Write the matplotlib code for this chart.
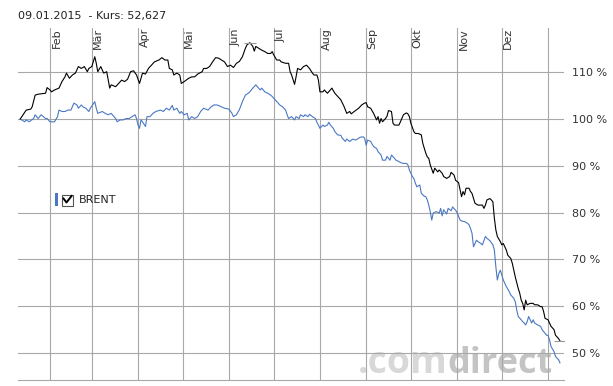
import numpy as np
import matplotlib
matplotlib.use('Agg')
import matplotlib.pyplot as plt
from matplotlib import transforms
from matplotlib.patches import Rectangle
from matplotlib.lines import Line2D

# Tage seit 01.01.2014 und Kurs in %
black_day = [11, 15, 18, 19, 21, 23, 28, 29, 31, 32, 34, 37, 39, 41, 42, 44, 46, 48, 50, 52,
             54, 56, 57, 59, 61, 62, 63, 65, 67, 69, 71, 72, 75, 77, 79, 81, 83, 85, 87, 89,
             91, 93, 95, 97, 99, 101, 104, 106, 108, 110, 111, 113, 114, 116, 118, 119, 121, 124, 126, 128,
             130, 133, 134, 136, 138, 140, 142, 144, 146, 148, 150, 152, 154, 156, 158, 160, 162, 163, 165, 167,
             168, 169, 171, 173, 175, 177, 179, 180, 181, 183, 185, 186, 189, 191, 192, 193, 195, 196, 197, 199,
             201, 203, 205, 207, 208, 210, 211, 212, 214, 215, 217, 219, 220, 222, 224, 226, 228, 230, 232, 233,
             235, 238, 240, 242, 243, 244, 246, 248, 250, 251, 252, 253, 254, 256, 257, 258, 260, 261, 262, 265,
             266, 268, 270, 271, 272, 273, 275, 276, 278, 280, 281, 283, 284, 285, 286, 288, 289, 291, 292, 294,
             295, 297, 299, 300, 302, 303, 305, 307, 308, 309, 310, 312, 313, 314, 316, 318, 321, 322, 323, 324,
             326, 327, 328, 329, 330, 331, 333, 334, 335, 336, 337, 338, 340, 341, 342, 343, 345, 346, 347, 348,
             349, 350, 351, 353, 355, 356, 358, 360, 361, 362, 363, 365, 366, 367, 369, 370, 372, 373]
black_pct = [100.0, 101.9, 102.1, 102.6, 105.1, 105.3, 105.5, 106.7, 106.2, 105.8, 106.2, 106.6, 108.0, 109.0, 109.8, 108.7, 109.4, 109.8, 111.2, 110.8,
             111.2, 110.1, 110.8, 111.2, 113.3, 111.9, 110.1, 111.2, 109.8, 110.1, 106.6, 107.3, 106.9, 107.6, 108.3, 108.0, 108.5, 110.1, 110.3, 109.4,
             107.6, 109.8, 109.6, 110.8, 111.5, 112.2, 112.6, 113.1, 112.6, 112.6, 110.8, 110.5, 109.4, 109.8, 109.4, 107.6, 108.0, 108.7, 109.0, 109.0,
             109.6, 110.1, 110.8, 110.8, 111.2, 112.2, 113.1, 113.0, 112.6, 112.2, 111.2, 111.5, 111.0, 111.9, 112.3, 113.3, 115.1, 115.8, 116.3, 115.5,
             114.5, 115.5, 115.1, 114.7, 114.4, 114.0, 114.0, 114.4, 113.7, 112.6, 112.6, 112.2, 111.9, 111.9, 110.1, 109.4, 107.4, 109.0, 110.8, 110.5,
             111.2, 111.5, 110.8, 109.8, 109.4, 109.4, 108.3, 105.8, 105.8, 106.2, 105.5, 106.2, 106.6, 105.5, 104.8, 104.1, 102.8, 101.2, 101.6, 101.1,
             101.6, 102.3, 103.0, 103.4, 103.5, 102.6, 102.3, 101.2, 99.8, 100.5, 99.1, 100.1, 99.4, 100.1, 100.6, 101.8, 101.6, 99.1, 98.7, 98.7,
             99.4, 100.9, 101.3, 101.1, 100.5, 99.1, 97.3, 96.9, 96.9, 96.6, 94.8, 92.7, 91.9, 91.6, 90.2, 88.4, 89.5, 88.7, 89.1, 88.4,
             87.7, 87.3, 87.7, 88.6, 88.0, 86.9, 86.4, 83.4, 84.5, 83.8, 85.2, 85.2, 84.5, 84.1, 82.0, 81.6, 81.6, 80.9, 81.6, 82.7,
             83.0, 82.7, 82.3, 78.8, 76.3, 74.9, 73.8, 73.1, 73.4, 72.7, 72.0, 70.9, 70.2, 69.2, 67.7, 66.3, 63.8, 62.8, 61.3, 60.6,
             59.2, 61.3, 60.3, 60.6, 60.6, 60.3, 60.3, 59.9, 59.9, 58.9, 57.4, 57.1, 56.4, 55.7, 55.0, 53.8, 53.1, 52.6]

brent_day = [11, 14, 15, 17, 20, 21, 23, 25, 28, 29, 31, 32, 34, 36, 37, 39, 41, 43, 45, 47,
             49, 50, 52, 53, 55, 57, 58, 61, 62, 63, 66, 68, 70, 72, 75, 76, 78, 80, 82, 84,
             86, 88, 89, 90, 91, 92, 93, 95, 96, 98, 100, 102, 105, 107, 109, 111, 113, 114, 116, 118,
             119, 121, 123, 124, 126, 128, 130, 132, 134, 137, 139, 141, 143, 146, 148, 151, 153, 154, 156, 158,
             160, 162, 164, 165, 167, 169, 170, 172, 173, 175, 177, 179, 180, 182, 184, 185, 187, 189, 190, 191,
             193, 195, 196, 198, 199, 201, 202, 204, 205, 207, 209, 210, 211, 212, 214, 215, 217, 218, 219, 221,
             222, 224, 226, 227, 229, 230, 232, 234, 236, 238, 239, 241, 242, 243, 244, 246, 248, 250, 251, 253,
             254, 256, 257, 259, 260, 262, 263, 265, 266, 268, 270, 271, 272, 274, 275, 276, 277, 279, 280, 282,
             283, 284, 285, 286, 287, 288, 290, 292, 293, 294, 295, 297, 298, 300, 301, 303, 304, 306, 308, 309,
             311, 312, 313, 314, 315, 317, 318, 320, 321, 323, 324, 326, 328, 329, 330, 331, 332, 333, 335, 336,
             337, 339, 340, 342, 343, 344, 345, 347, 348, 349, 350, 351, 352, 353, 354, 355, 356, 358, 360, 361,
             363, 364, 365, 366, 367, 369, 370, 371, 372, 373]
brent_pct = [100.0, 99.4, 99.8, 99.4, 100.1, 100.9, 100.1, 100.9, 100.1, 100.1, 99.4, 99.4, 99.4, 100.5, 101.9, 101.6, 101.6, 101.9, 101.9, 103.4,
             103.0, 102.3, 103.0, 102.6, 102.3, 101.6, 102.3, 103.7, 102.3, 101.2, 101.6, 101.2, 100.9, 101.2, 100.1, 99.4, 99.8, 99.8, 100.1, 100.1,
             100.5, 100.9, 100.1, 98.7, 98.0, 99.8, 99.4, 98.4, 100.5, 100.5, 101.2, 101.6, 101.9, 101.6, 102.3, 101.9, 102.9, 101.9, 102.3, 101.2,
             101.6, 100.9, 101.2, 99.8, 100.5, 100.1, 100.5, 101.6, 102.3, 101.9, 102.6, 103.0, 103.0, 102.6, 102.3, 102.1, 101.2, 100.5, 100.9, 102.0,
             103.7, 105.1, 105.5, 105.8, 106.6, 107.3, 106.9, 106.2, 106.6, 105.8, 105.5, 105.1, 104.8, 104.1, 103.4, 103.0, 102.6, 101.9, 100.9, 100.1,
             100.5, 99.8, 100.5, 100.1, 100.9, 100.5, 100.9, 100.5, 101.0, 100.5, 100.1, 99.3, 98.7, 98.0, 98.7, 98.4, 98.7, 99.3, 98.7, 98.0,
             97.3, 96.6, 96.5, 95.9, 95.2, 95.7, 95.2, 95.7, 95.5, 95.9, 96.1, 96.2, 95.9, 94.4, 95.5, 95.2, 94.1, 93.7, 93.0, 92.3,
             91.2, 91.2, 92.0, 91.2, 92.3, 91.6, 91.2, 90.9, 90.7, 90.5, 90.5, 90.2, 89.1, 87.7, 87.3, 86.3, 85.5, 85.9, 84.1, 83.5,
             83.4, 82.7, 81.6, 80.2, 78.4, 79.9, 80.2, 79.9, 80.9, 79.3, 80.6, 79.7, 80.9, 80.4, 81.2, 80.5, 80.0, 78.4, 78.1, 78.1,
             77.7, 77.4, 76.6, 75.6, 72.7, 74.1, 73.8, 73.4, 73.1, 74.9, 74.5, 74.0, 73.1, 72.0, 68.4, 65.6, 67.0, 67.7, 65.6, 64.9,
             64.2, 63.1, 62.4, 61.7, 61.0, 59.2, 57.8, 57.1, 56.7, 56.4, 56.0, 56.7, 57.8, 57.1, 56.4, 57.1, 56.4, 56.0, 55.7, 55.0,
             54.2, 53.8, 53.8, 52.8, 51.4, 50.3, 49.3, 48.9, 48.6, 47.9]

month_labels = ['Feb', 'Mär', 'Apr', 'Mai', 'Jun', 'Jul', 'Aug', 'Sep', 'Okt', 'Nov', 'Dez', '']
y_ticks = [50, 60, 70, 80, 90, 100, 110]
header = '09.01.2015  - Kurs: 52,627'
legend_name = 'BRENT'

W, H = 613, 386
blue = '#4a78c4'
grid_col = '#a8a8a8'
txt_col = '#333333'

start = np.datetime64('2014-01-01')
black_t = start + np.array(black_day).astype('timedelta64[D]')
brent_t = start + np.array(brent_day).astype('timedelta64[D]')
months = np.arange('2014-02', '2015-02', dtype='datetime64[M]').astype('datetime64[D]')

fig = plt.figure(figsize=(W / 100, H / 100), dpi=100)
ax = fig.add_axes([18 / W, 6 / H, 546 / W, 352 / H])

ax.set_ylim(44.23, 119.44)
ax.set_xlim(start + np.timedelta64(228, 'h'), start + np.timedelta64(9017, 'h'))

ax.set_xticks(months)
ax.set_yticks(y_ticks)
ax.set_yticklabels([f'{v} %' for v in y_ticks])
ax.yaxis.tick_right()
ax.tick_params(axis='x', length=0, labelbottom=False)
ax.tick_params(axis='y', length=0, pad=6, labelsize=8, labelcolor=txt_col)
ax.grid(True, color=grid_col, lw=0.8)
for s in ['top', 'left', 'right']:
    ax.spines[s].set_visible(False)
ax.spines['bottom'].set_color(grid_col)
ax.spines['bottom'].set_linewidth(0.8)

# Monatsnamen senkrecht neben den Linien
trans = transforms.blended_transform_factory(ax.transData, ax.transAxes)
trans = trans + transforms.ScaledTranslation(1.5 / 100, 0, fig.dpi_scale_trans)
for d, lab in zip(months, month_labels):
    ax.text(d, 1.0, lab, transform=trans, rotation=90, ha='left', va='top',
            fontsize=8, color=txt_col)

# Wasserzeichen
ax.text((448 - 18) / 546, 0.019, '.com', transform=ax.transAxes, ha='right', va='baseline',
        fontsize=27, fontweight='bold', family='Open Sans', color='#d8d8d8', zorder=1)
ax.text((553 - 18) / 546, 0.019, 'direct', transform=ax.transAxes, ha='right', va='baseline',
        fontsize=26, fontweight='bold', family='Open Sans', color='#c4c4c4', zorder=1)

ax.plot(brent_t, brent_pct, color=blue, lw=0.8, zorder=3)
ax.plot(black_t, black_pct, color='black', lw=0.8, zorder=4)

# Hoch/Tief Markierung
imax = int(np.argmax(black_pct))
imin = int(np.argmin(black_pct))
for i in (imax, imin):
    ax.plot([black_t[i]], [black_pct[i]], marker='_', ms=8, mew=0.8, color='#999999', zorder=5)

fig.text(18 / W, 1 - 16 / H, header, fontsize=8, va='center', color='#222222')

# Legende
fig.add_artist(Rectangle((55 / W, 1 - 206 / H), 2.5 / W, 13 / H, transform=fig.transFigure,
                         color=blue, lw=0))
fig.add_artist(Rectangle((61.5 / W, 1 - 205.5 / H), 11 / W, 11 / H, transform=fig.transFigure,
                         fill=False, ec='#555555', lw=0.8))
fig.add_artist(Line2D(np.array([63.5, 66.5, 71.5]) / W, 1 - np.array([198.5, 202.5, 196.0]) / H,
                      transform=fig.transFigure, color='black', lw=1.4))
fig.text(79 / W, 1 - 200 / H, legend_name, fontsize=8, va='center', color='#222222')

fig.savefig('out.png', dpi=100)
